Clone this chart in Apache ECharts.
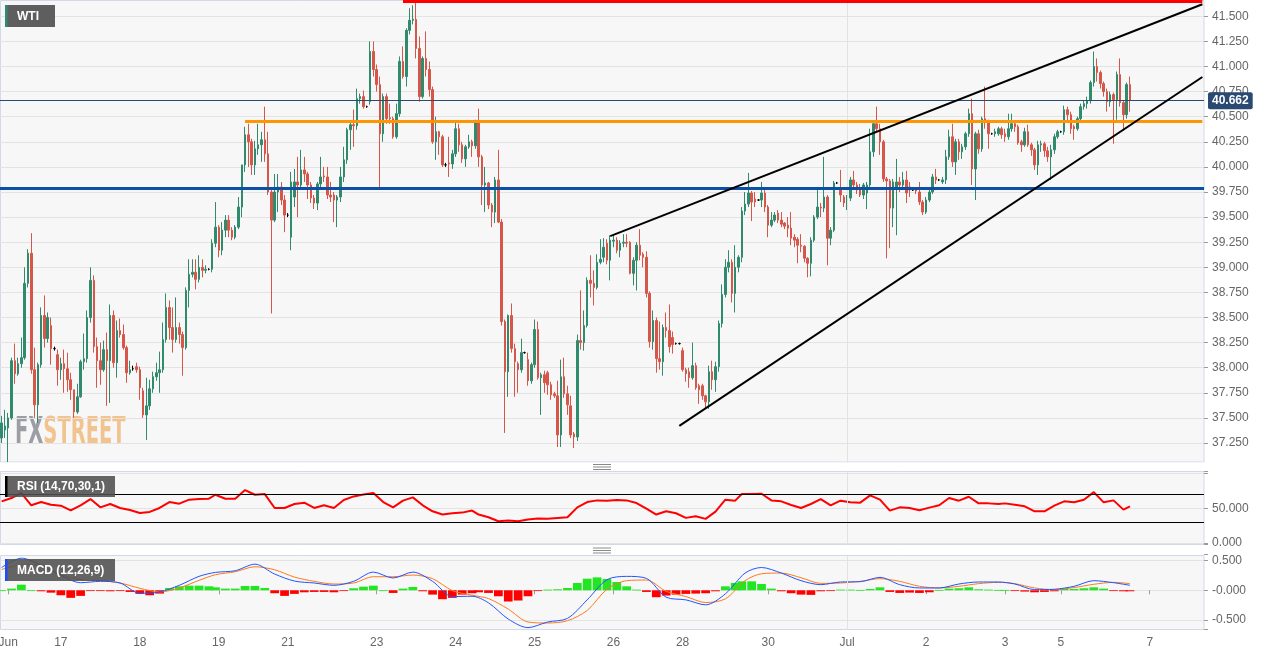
<!DOCTYPE html>
<html><head><meta charset="utf-8">
<script src="https://cdn.jsdelivr.net/npm/echarts@6/dist/echarts.min.js"></script>
<style>html,body{margin:0;padding:0;background:#fff}#c{width:1269px;height:655px}</style>
</head><body><div id="c"></div><script>
// hourly WTI candles [open, close, low, high], read left to right
const seg1 = [
[37.30,37.45,37.25,37.52],[37.38,37.42,37.30,37.58],[37.40,37.50,37.06,37.55],[37.50,38.07,37.48,38.10],
[38.07,37.94,37.84,38.24],[37.94,38.04,37.92,38.10],[38.04,38.10,38.00,38.30],[38.10,38.84,38.08,39.00],
[38.84,39.14,38.80,39.18],[39.14,37.98,37.94,39.34],[37.98,37.63,37.50,38.20],[37.63,38.03,37.45,38.05],
[38.03,38.52,38.00,38.60],[38.52,38.29,38.20,38.72],[38.29,38.50,38.25,38.55],[38.42,38.19,38.03,38.50],
[38.19,38.19,38.17,38.21],[38.13,37.98,37.82,38.18],[37.98,38.04,37.88,38.10],[38.04,37.99,37.75,38.18],
[37.99,37.88,37.76,38.15],[37.88,37.78,37.68,37.95],[37.78,37.56,37.50,37.78],[37.56,37.71,37.54,37.84],
[37.71,38.06,37.70,38.08],[38.06,38.09,37.98,38.34],[38.09,38.50,38.05,38.57],[38.50,38.87,38.45,39.00],
[38.87,38.21,38.15,38.92],[38.21,38.07,37.80,38.30],[38.07,37.98,37.83,38.25],[37.98,38.18,37.96,38.27],
[38.18,38.07,37.62,38.35],[38.07,38.52,37.65,38.63],[38.52,38.05,38.00,38.57],[38.05,38.37,37.90,38.47],
[38.37,38.33,38.30,38.49],[38.33,38.20,38.18,38.43],[38.20,37.95,37.85,38.22],[37.95,37.98,37.93,38.07],
[37.99,37.99,37.97,38.02],[38.01,37.98,37.95,38.05],[37.98,37.80,37.68,38.01],[37.77,37.53,37.50,37.80],
[37.53,37.62,37.28,37.90],[37.62,37.79,37.58,37.88],[37.79,37.91,37.75,37.96],[37.91,37.95,37.87,38.05],
[37.95,37.98,37.75,38.16],[37.98,38.28,37.95,38.45],[38.28,38.60,38.25,38.74],[38.60,38.40,38.28,38.67],
[38.40,38.28,38.15,38.60],[38.28,38.40,38.25,38.70],[38.40,38.33,38.24,38.45],[38.33,38.20,37.92,38.36],
[38.20,38.77,38.18,38.80],[38.77,38.93,38.60,39.08],[38.93,38.95,38.90,39.08],[38.95,38.88,38.78,39.08],
[38.88,39.00,38.85,39.12]
];
const seg2 = [
[39.00,38.97,38.90,39.08],[38.97,38.98,38.94,39.02],[38.98,38.98,38.97,38.99],[38.98,39.24,38.95,39.28],
[39.24,39.40,39.20,39.65],[39.40,39.17,39.10,39.42],[39.17,39.37,39.12,39.45],[39.37,39.47,39.30,39.52],
[39.47,39.37,39.30,39.52],[39.37,39.30,39.27,39.40],[39.30,39.40,39.28,39.42],[39.40,39.60,39.38,39.70],
[39.60,40.02,39.50,40.02],[40.02,40.32,39.95,40.40],[40.32,40.25,40.00,40.43],[40.25,40.02,39.92,40.28],
[40.02,40.18,39.92,40.26],[40.18,40.22,40.12,40.43],[40.22,40.27,40.05,40.35],[40.27,40.13,40.05,40.60],
[40.13,39.75,39.72,40.35],[39.75,39.47,38.54,39.77],[39.47,39.75,39.45,39.93],[39.75,39.80,39.55,39.93],
[39.80,39.67,39.62,39.85],[39.67,39.52,39.35,39.72],[39.52,39.52,39.50,39.54],[39.30,39.85,39.17,39.95],
[39.70,39.85,39.60,39.98],[39.85,39.82,39.50,40.10],[39.82,39.97,39.80,40.17],[39.97,39.93,39.85,40.10],
[39.93,39.82,39.68,39.95],[39.82,39.69,39.64,39.85],[39.69,39.64,39.58,39.72],[39.64,39.83,39.57,39.85],
[39.83,39.90,39.78,40.10],[39.91,39.90,39.85,40.00],[39.90,39.72,39.68,40.00],[39.72,39.70,39.65,39.85],
[39.72,39.67,39.45,39.75],[39.67,39.70,39.40,39.72],[39.70,39.90,39.65,40.00],[39.90,40.07,39.85,40.20],
[40.07,40.37,40.03,40.39],[40.37,40.42,40.17,40.45],[40.42,40.41,40.20,40.57],[40.41,40.68,40.37,40.78],
[40.68,40.70,40.63,40.73],[40.70,40.60,40.58,40.76],[40.60,40.60,40.59,40.61],[40.65,41.15,40.62,41.25],
[41.15,40.97,40.90,41.25],[40.97,40.82,40.75,41.02],[40.82,40.33,39.79,40.90],[40.33,40.70,40.25,40.73],
[40.70,40.48,40.43,40.73],[40.49,40.48,40.43,40.63],[40.48,40.30,40.28,40.50],[40.30,40.53,40.28,40.63],
[40.53,41.05,40.50,41.10]
];
const seg3 = [
[41.05,40.90,40.88,41.20],[40.90,41.36,40.80,41.38],[41.36,41.46,41.32,41.58],[41.46,41.47,41.42,41.61],
[41.47,41.18,41.08,41.64],[41.18,40.70,40.65,41.30],[40.70,41.08,40.68,41.10],[41.08,40.97,40.90,41.35],
[40.97,40.77,40.70,41.05],[40.77,40.25,40.23,40.80],[40.25,40.35,40.07,40.50],[40.35,40.30,40.12,40.36],
[40.30,40.02,40.00,40.32],[40.02,40.02,40.00,40.04],[40.04,40.03,39.90,40.30],[40.03,40.13,39.98,40.17],
[40.13,40.38,40.10,40.44],[40.38,40.22,40.15,40.43],[40.22,40.08,40.04,40.25],[40.08,40.20,40.00,40.22],
[40.20,40.25,40.18,40.32],[40.25,40.21,40.10,40.27],[40.21,40.45,40.18,40.47],[40.45,40.10,40.00,40.58],
[40.10,39.82,39.62,40.12],[39.82,39.84,39.55,40.00],[39.84,39.62,39.58,39.85],[39.62,39.55,39.40,39.64],
[39.55,39.87,39.44,39.90],[39.87,39.45,39.44,40.17],[39.45,38.46,38.42,39.48],[38.46,37.96,37.35,38.48],
[37.96,38.52,37.71,38.53],[38.52,38.19,38.15,38.64],[38.19,38.06,37.71,38.24],[38.04,37.98,37.75,38.06],
[37.98,38.15,37.95,38.29],[38.15,38.15,38.14,38.16],[38.08,37.87,37.82,38.15],[37.87,38.03,37.84,38.05],
[38.03,38.38,38.00,38.48],[38.38,37.90,37.88,38.46],[37.90,37.93,37.53,37.95],[37.93,37.85,37.75,37.97],
[37.95,37.83,37.73,37.97],[37.83,37.73,37.68,37.86],[37.74,37.72,37.70,37.76],[37.72,37.33,37.21,37.87],
[37.33,37.91,37.21,38.08],[37.91,37.74,37.70,38.10],[37.74,37.63,37.53,37.82],[37.62,37.33,37.30,37.72],
[37.34,37.31,37.20,37.36],[37.31,38.27,37.27,38.33],[38.27,38.25,38.18,38.77],[38.25,38.42,38.17,38.57],
[38.42,38.87,38.40,38.90],[38.87,38.84,38.70,39.12],[38.84,38.80,38.62,38.97],[38.80,39.05,38.78,39.13],
[39.05,39.08,39.03,39.28]
];
const seg4 = [
[39.10,39.20,39.05,39.29],[39.24,39.07,39.03,39.28],[39.07,39.27,38.87,39.32],[39.26,39.27,39.20,39.32],
[39.27,39.17,39.14,39.30],[39.17,39.24,39.10,39.27],[39.24,39.25,39.20,39.33],[39.25,39.24,39.20,39.33],
[39.25,38.94,38.93,39.26],[38.94,39.07,38.82,39.10],[39.07,39.22,38.77,39.25],[39.22,39.12,39.07,39.38],
[39.13,39.10,39.00,39.15],[39.10,38.74,38.70,39.16],[38.74,38.26,38.20,38.76],[38.26,38.47,38.18,38.57],
[38.47,38.09,37.95,38.50],[38.09,38.06,37.98,38.46],[38.06,38.40,37.92,38.43],[38.40,38.37,38.30,38.55],
[38.37,38.21,38.15,38.63],[38.30,38.23,38.14,38.36],[38.24,38.24,38.23,38.25],[38.24,38.24,38.23,38.25],
[38.17,37.98,37.96,38.20],[37.98,37.94,37.86,38.00],[37.96,37.90,37.80,38.00],[37.90,38.02,37.88,38.25],
[38.02,37.80,37.78,38.05],[37.82,37.78,37.64,37.84],[37.82,37.72,37.68,37.84],[37.72,37.66,37.60,37.73],
[37.66,37.96,37.59,38.02],[37.96,37.88,37.78,38.07],[37.88,38.01,37.76,38.06],[38.01,38.44,37.96,38.47],
[38.44,38.73,38.40,38.83],[38.73,39.00,38.70,39.08],[39.00,39.05,38.95,39.17],[39.05,38.74,38.65,39.08],
[38.74,39.00,38.55,39.22],[39.00,39.10,38.95,39.12],[39.10,39.56,39.05,39.60],[39.56,39.63,39.52,39.75],
[39.63,39.74,39.60,39.94],[39.74,39.65,39.46,39.76],[39.68,39.65,39.60,39.75],[39.67,39.67,39.66,39.68],
[39.67,39.74,39.60,39.85],[39.74,39.60,39.55,39.80],[39.60,39.42,39.30,39.62],[39.42,39.47,39.40,39.55],
[39.47,39.52,39.45,39.55],[39.54,39.47,39.44,39.57],[39.47,39.43,39.40,39.55],[39.44,39.41,39.38,39.45],
[39.42,39.39,39.30,39.50],[39.39,39.29,39.22,39.55],[39.30,39.27,39.20,39.33],[39.28,39.22,39.04,39.30]
];
const seg5 = [
[39.22,39.21,39.15,39.33],[39.21,39.09,39.05,39.22],[39.09,39.04,38.90,39.10],[39.04,39.27,38.91,39.30],
[39.27,39.50,39.25,39.52],[39.50,39.60,39.48,39.80],[39.60,39.59,39.50,39.64],[39.59,39.70,39.55,40.10],
[39.70,39.29,39.02,39.72],[39.29,39.37,39.22,39.40],[39.37,39.84,39.35,39.86],[39.84,39.84,39.83,39.85],
[39.78,39.72,39.65,39.97],[39.70,39.64,39.60,39.72],[39.64,39.69,39.57,39.72],[39.69,39.87,39.66,39.90],
[39.87,39.82,39.78,39.96],[39.82,39.77,39.73,39.85],[39.77,39.72,39.70,39.83],[39.72,39.82,39.68,39.84],
[39.74,39.82,39.58,39.85],[39.82,40.15,39.80,40.38],[40.15,40.43,40.10,40.45],[40.43,40.38,40.35,40.60],
[40.38,40.25,40.12,40.43],[40.25,39.88,39.85,40.27],[39.88,39.86,39.09,39.90],[39.86,39.59,39.19,39.88],
[39.59,39.85,39.40,39.88],[39.80,39.85,39.32,40.08],[39.85,39.82,39.75,39.90],[39.82,39.87,39.78,39.95],
[39.87,39.74,39.64,39.96],[39.80,39.77,39.70,39.85],[39.77,39.77,39.76,39.78],[39.78,39.76,39.73,39.80],
[39.75,39.65,39.62,39.85],[39.65,39.55,39.52,39.67],[39.55,39.67,39.53,39.70],[39.67,39.75,39.65,39.78],
[39.75,39.90,39.73,39.93],[39.90,39.87,39.83,39.98],[39.87,39.87,39.86,39.88],[39.85,39.87,39.83,39.90],
[39.87,40.10,39.83,40.17],[40.10,40.30,40.07,40.37],[40.30,40.05,40.00,40.43],[40.05,40.25,39.92,40.28],
[40.25,40.15,40.07,40.28],[40.15,40.20,40.08,40.23],[40.20,40.33,40.17,40.35],[40.33,40.53,40.30,40.58],
[40.53,39.98,39.82,40.68],[39.98,40.33,39.67,40.35],[40.33,40.18,40.13,40.37],[40.18,40.48,40.15,40.50],
[40.48,40.45,40.38,40.80],[40.45,40.33,40.18,40.47],[40.33,40.33,40.32,40.34],[40.33,40.35,40.30,40.38],
[40.33,40.38,40.31,40.40]
];
const seg6 = [
[40.38,40.32,40.28,40.40],[40.33,40.30,40.25,40.38],[40.30,40.38,40.27,40.53],[40.38,40.43,40.35,40.53],
[40.43,40.40,40.35,40.45],[40.40,40.24,40.22,40.42],[40.25,40.22,40.15,40.27],[40.22,40.35,40.20,40.39],
[40.35,40.22,40.20,40.42],[40.22,40.17,40.11,40.24],[40.17,40.02,39.97,40.19],[40.02,40.22,39.92,40.26],
[40.22,40.23,40.15,40.26],[40.23,40.16,40.10,40.25],[40.16,40.10,40.05,40.20],[40.10,40.17,39.87,40.22],
[40.17,40.30,40.13,40.33],[40.30,40.35,40.28,40.37],[40.35,40.35,40.34,40.36],[40.35,40.57,40.32,40.61],
[40.57,40.52,40.45,40.60],[40.52,40.38,40.33,40.55],[40.40,40.38,40.27,40.42],[40.38,40.48,40.36,40.50],
[40.48,40.60,40.45,40.63],[40.60,40.63,40.57,40.66],[40.63,40.66,40.58,40.70],[40.66,40.84,40.63,40.86],
[40.84,41.00,40.80,41.15],[41.00,40.94,40.85,41.08],[40.94,40.83,40.78,40.96],[40.83,40.75,40.70,40.85],
[40.75,40.65,40.55,40.78],[40.65,40.72,40.60,40.75],[40.72,40.67,40.23,40.74],[40.67,40.92,40.47,40.95],
[40.92,40.64,40.60,41.08],[40.64,40.52,40.36,40.66],[40.52,40.82,40.48,40.84],[40.82,40.662,40.55,40.90]
];
const candles = seg1.concat(seg2, seg3, seg4, seg5, seg6);

// x-axis ticks (hour index) and their labels
const tickIndex = [2, 18, 42, 66, 87, 114, 138, 162, 186, 207, 233, 257, 281, 305, 322, 349];
const tickLabel = ['Jun','17','18','19','21','23','24','25','26','28','30','Jul','2','3','5','7'];

// levels and trend lines [hour index, price]
const levelRed = 41.648, redStart = 122;
const levelOrange = 40.454, orangeStart = 74;
const levelBlue = 39.787;
const lastPrice = 40.662;
const trendUpper = [[185, 39.31], [365, 41.62]];
const trendLower = [[206, 37.42], [365, 40.895]];

// RSI(14) readings, about every 3 hours
const rsi = [60,64.8,72,54.3,59,55.2,53.8,47,54.3,63.3,51.4,56.2,50.5,47.6,43.3,44.8,50.5,59,56.7,62.4,63.3,63.8,69.5,63.8,63.8,76.2,69.5,70.5,50.5,50.5,56.2,
58.1,50.5,54.3,50.5,61.9,67.1,70,72,59,51.4,61,65.7,54.3,45.7,41,42.9,43.8,46.7,41,37.1,31.4,32.4,31.4,33.8,35.2,34.8,36.2,37.1,51.4,59,61.4,
61,61.9,61.4,57.6,49.5,41,45.7,42.9,36.2,38.6,34.8,45.2,62.4,61,70.5,70.5,71,61.4,60,54.8,50.5,56.2,63.3,54.3,61,58.6,58.1,68.6,62.4,46.7,51.4,
50.5,47.1,51,54.3,64.8,61,66.7,57.1,57.1,56.2,57.1,55.2,52.9,45.7,45.7,53.8,60,58.6,62.4,73.3,58.6,61.4,48.1,52.9];
// MACD histogram readings, same spacing as RSI
const macdHist = [0,0.028,0.095,0,-0.017,-0.04,-0.084,-0.128,-0.095,-0.006,-0.011,-0.017,-0.011,-0.028,-0.061,-0.084,-0.056,0.039,0.067,0.078,0.078,0.067,0.05,0.028,0.028,0.073,0.073,0.039,-0.05,-0.095,-0.061,
-0.034,-0.028,-0.028,-0.034,-0.006,0.034,0.061,0.078,0,-0.045,0.028,0.056,-0.017,-0.073,-0.151,-0.128,-0.073,-0.05,-0.034,-0.045,-0.101,-0.19,-0.173,-0.101,-0.006,0.011,0.017,0.039,0.123,0.196,0.218,
0.19,0.14,0.067,0.011,-0.028,-0.117,-0.089,-0.073,-0.061,-0.056,-0.05,-0.017,0.067,0.123,0.151,0.151,0.106,0.028,-0.017,-0.05,-0.073,-0.078,-0.017,-0.006,0.011,0.011,0.006,0.022,0.05,-0.028,-0.045,
-0.039,-0.045,-0.034,0.006,0.028,0.034,0.05,0.017,0.011,0.006,0.006,-0.006,-0.022,-0.034,-0.028,-0.017,0.022,0.022,0.034,0.05,0.028,-0.006,-0.017,-0.017];
// MACD line and signal readings, about every 6 hours
const macdLine = [0.385,0.542,0.425,0.251,0.128,0.151,0.123,-0.05,-0.028,0.084,0.235,0.302,0.33,0.441,0.274,0.156,0.123,0.084,0.151,0.307,0.207,0.307,0.151,-0.106,-0.101,-0.212,-0.486,-0.631,-0.536,-0.475,-0.162,0.179,0.235,0.201,-0.117,-0.162,-0.246,-0.061,0.291,0.385,0.291,0.162,0.095,0.14,0.145,0.218,0.095,0.039,0.039,0.106,0.14,0.14,0.106,0.011,0.017,0.067,0.162,0.128,0.084];
const macdSignal = [0.352,0.425,0.43,0.268,0.179,0.162,0.123,0.034,-0.028,0.039,0.168,0.263,0.313,0.397,0.346,0.223,0.151,0.106,0.123,0.229,0.229,0.257,0.196,-0.006,-0.084,-0.14,-0.318,-0.536,-0.553,-0.514,-0.341,0.017,0.162,0.173,-0.017,-0.106,-0.207,-0.145,0.162,0.279,0.291,0.212,0.117,0.123,0.151,0.196,0.151,0.067,0.039,0.067,0.112,0.134,0.112,0.039,0.011,0.045,0.101,0.134,0.112];

const N = 366;              // hourly slots across the plot width
const lastIndex = candles.length - 1;
const rsiStep = 2.963, macdStep = 5.927;   // hours between readings
const xLabels = Array.from({length: N}, () => '');
tickIndex.forEach((i, j) => { xLabels[i] = tickLabel[j]; });
const atStep = (arr, step) => arr.map((v, k) => [k === arr.length - 1 ? lastIndex : Math.round(0.29 + k * step), v]);

const up = '#2f8a6e', down = '#d6574a';
const histUp = '#22e622', histDown = '#ff0000';
const font = '"Liberation Sans", Arial, sans-serif';
const axisLab = {color: '#666', fontSize: 12, fontFamily: font, margin: 8};
const tick = {show: true, length: 4, lineStyle: {color: '#9a9a9a'}};
const split = {show: true, lineStyle: {color: '#e3e3e3', width: 1}};
const gridBase = {left: 0, width: 1204, containLabel: false, outerBoundsMode: 'none'};

const chart = echarts.init(document.getElementById('c'), null, {renderer: 'canvas'});
chart.setOption({
  animation: false,
  backgroundColor: '#ffffff',
  grid: [
    Object.assign({}, gridBase, {top: -8.8, height: 476.9}),
    Object.assign({}, gridBase, {top: 471.3, height: 73.4}),
    Object.assign({}, gridBase, {top: 554.7, height: 75})
  ],
  xAxis: [
    {type: 'category', gridIndex: 0, data: xLabels, boundaryGap: true, show: false},
    {type: 'category', gridIndex: 1, data: xLabels, boundaryGap: true, show: false},
    {type: 'category', gridIndex: 2, data: xLabels, boundaryGap: true,
     axisLine: {show: false},
     axisTick: {show: true, length: 4, alignWithLabel: true, interval: (i, v) => v !== '', lineStyle: {color: '#9a9a9a'}},
     axisLabel: {interval: 0, color: '#666', fontSize: 12, fontFamily: font, margin: 7},
     splitLine: {show: false}}
  ],
  yAxis: [
    {type: 'value', gridIndex: 0, position: 'right', min: 37, max: 41.75, interval: 0.25,
     axisLine: {show: false}, axisTick: tick, splitLine: split,
     axisLabel: Object.assign({}, axisLab, {formatter: v => (v < 37.1 || v > 41.6) ? '' : v.toFixed(3)})},
    {type: 'value', gridIndex: 1, position: 'right', min: -2.43, max: 103.3, splitNumber: 2,
     axisLine: {show: false}, axisTick: tick,
     splitLine: {show: true, showMinLine: false, showMaxLine: false, lineStyle: {color: '#e3e3e3'}},
     axisLabel: Object.assign({}, axisLab, {formatter: v => Math.abs(v) < 1e-6 ? '0.000' : (Math.abs(v - 50) < 1e-6 ? '50.000' : '')})},
    {type: 'value', gridIndex: 2, position: 'right', min: -0.666, max: 0.601, splitNumber: 2,
     axisLine: {show: false}, axisTick: tick,
     splitLine: {show: true, showMinLine: false, showMaxLine: false, lineStyle: {color: '#e3e3e3'}},
     axisLabel: Object.assign({}, axisLab, {formatter: v => Math.abs(v) < 1e-6 ? '-0.000' : (Math.abs(Math.abs(v) - 0.5) < 1e-6 ? v.toFixed(3) : '')})}
  ],
  series: [
    {
      type: 'candlestick', xAxisIndex: 0, yAxisIndex: 0, data: candles, barWidth: 2,
      itemStyle: {color: up, color0: down, borderColor: up, borderColor0: down, borderColorDoji: '#000', borderWidth: 1},
      markLine: {
        silent: true, symbol: ['none', 'none'], animation: false,
        label: {show: false},
        data: [
          {xAxis: 'Jul', lineStyle: {color: '#e2e2e2', width: 1, type: 'solid'}},
          {yAxis: levelBlue, lineStyle: {color: '#0b4fa6', width: 3, type: 'solid'}},
          {yAxis: lastPrice, lineStyle: {color: '#2b4a72', width: 1, type: 'solid'},
           label: {show: true, position: 'end', formatter: '40.662', color: '#fff', backgroundColor: '#2b4a72',
                   fontWeight: 'bold', fontSize: 12, fontFamily: font, padding: [3, 4, 2, 4], borderRadius: 2, distance: 4}},
          [{coord: [orangeStart, levelOrange]}, {coord: [N - 1, levelOrange], lineStyle: {color: '#ff9500', width: 3, type: 'solid'}}],
          [{coord: [redStart, levelRed]}, {coord: [N - 1, levelRed], lineStyle: {color: '#ff0000', width: 3, type: 'solid'}}],
          [{coord: trendUpper[0]}, {coord: trendUpper[1], lineStyle: {color: '#000', width: 2, type: 'solid'}}],
          [{coord: trendLower[0]}, {coord: trendLower[1], lineStyle: {color: '#000', width: 2, type: 'solid'}}]
        ]
      }
    },
    {
      type: 'line', xAxisIndex: 1, yAxisIndex: 1, data: atStep(rsi, rsiStep), showSymbol: false,
      lineStyle: {color: '#ff0000', width: 2}, itemStyle: {color: '#ff0000'},
      markLine: {silent: true, symbol: ['none', 'none'], animation: false, label: {show: false},
        data: [
          {xAxis: 'Jul', lineStyle: {color: '#e2e2e2', width: 1, type: 'solid'}},
          {yAxis: 70, lineStyle: {color: '#000', width: 1, type: 'solid'}},
          {yAxis: 30, lineStyle: {color: '#000', width: 1, type: 'solid'}}
        ]}
    },
    {
      type: 'custom', xAxisIndex: 2, yAxisIndex: 2, data: atStep(macdHist, rsiStep),
      encode: {x: 0, y: 1},
      renderItem: (params, api) => {
        const i = api.value(0), v = api.value(1);
        const p0 = api.coord([i, 0]), p1 = api.coord([i, v]);
        const bw = api.size([1, 0])[0] * rsiStep;
        return {type: 'rect',
          shape: {x: p0[0] - bw / 2 + 0.5, y: Math.min(p0[1], p1[1]), width: bw - 1, height: Math.max(Math.abs(p1[1] - p0[1]), 0.8)},
          style: {fill: v >= 0 ? histUp : histDown}};
      }
    },
    {
      type: 'line', xAxisIndex: 2, yAxisIndex: 2, data: atStep(macdSignal, macdStep), showSymbol: false, smooth: 0.3,
      lineStyle: {color: '#ff7a1a', width: 1}, itemStyle: {color: '#ff7a1a'},
      markLine: {silent: true, symbol: ['none', 'none'], animation: false, label: {show: false},
        data: [{xAxis: 'Jul', lineStyle: {color: '#e2e2e2', width: 1, type: 'solid'}}]}
    },
    {
      type: 'line', xAxisIndex: 2, yAxisIndex: 2, data: atStep(macdLine, macdStep), showSymbol: false, smooth: 0.3,
      lineStyle: {color: '#2255ff', width: 1}, itemStyle: {color: '#2255ff'}
    }
  ],
  graphic: [
    {type: 'rect', z: -10, silent: true, shape: {x: 0.5, y: 0.5, width: 1203.5, height: 461.5}, style: {fill: '#f7f7f7', stroke: '#d3d8e6', lineWidth: 1}},
    {type: 'rect', z: -10, silent: true, shape: {x: 0.5, y: 471.5, width: 1203.5, height: 73}, style: {fill: '#f7f7f7', stroke: '#d3d8e6', lineWidth: 1}},
    {type: 'rect', z: -10, silent: true, shape: {x: 0.5, y: 555.5, width: 1203.5, height: 74}, style: {fill: '#f7f7f7', stroke: '#d3d8e6', lineWidth: 1}},
    {type: 'text', z: -5, silent: true, x: 15, y: 414, scaleX: 0.57,
     style: {text: '{a|FX}{b|STREET}', rich: {
       a: {fill: '#9d9da6', fontSize: 38, fontWeight: 'bold', fontFamily: '"DejaVu Sans Condensed", "DejaVu Sans", sans-serif'},
       b: {fill: '#f3c38f', fontSize: 38, fontWeight: 'bold', fontFamily: '"DejaVu Sans Condensed", "DejaVu Sans", sans-serif'}}}},
    {type: 'rect', z: 50, silent: true, shape: {x: 0, y: 462.6, width: 1269, height: 8.2}, style: {fill: '#ffffff'}},
    {type: 'rect', z: 51, silent: true, shape: {x: 593, y: 464, width: 18, height: 1}, style: {fill: '#8a8a8a'}},
    {type: 'rect', z: 51, silent: true, shape: {x: 593, y: 466.5, width: 18, height: 1}, style: {fill: '#8a8a8a'}},
    {type: 'rect', z: 51, silent: true, shape: {x: 593, y: 469, width: 18, height: 1}, style: {fill: '#8a8a8a'}},
    {type: 'rect', z: 51, silent: true, shape: {x: 593, y: 547.5, width: 18, height: 1}, style: {fill: '#8a8a8a'}},
    {type: 'rect', z: 51, silent: true, shape: {x: 593, y: 550, width: 18, height: 1}, style: {fill: '#8a8a8a'}},
    {type: 'rect', z: 51, silent: true, shape: {x: 593, y: 552.5, width: 18, height: 1}, style: {fill: '#8a8a8a'}},
    {type: 'rect', z: 60, silent: true, shape: {x: 5, y: 5, width: 50, height: 22}, style: {fill: '#5e5e5e'}},
    {type: 'rect', z: 61, silent: true, shape: {x: 5, y: 5, width: 2.5, height: 22}, style: {fill: '#2e8b73'}},
    {type: 'text', z: 62, silent: true, x: 17, y: 16.5, style: {text: 'WTI', fill: '#fff', fontSize: 12, fontWeight: 'bold', fontFamily: font, verticalAlign: 'middle'}},
    {type: 'rect', z: 60, silent: true, shape: {x: 5, y: 476, width: 110, height: 21}, style: {fill: 'rgba(80,80,80,0.88)'}},
    {type: 'rect', z: 61, silent: true, shape: {x: 5, y: 476, width: 2.5, height: 21}, style: {fill: '#000'}},
    {type: 'text', z: 62, silent: true, x: 17, y: 487, style: {text: 'RSI (14,70,30,1)', fill: '#fff', fontSize: 12, fontWeight: 'bold', fontFamily: font, verticalAlign: 'middle'}},
    {type: 'rect', z: 60, silent: true, shape: {x: 5, y: 559, width: 110, height: 22}, style: {fill: 'rgba(80,80,80,0.88)'}},
    {type: 'rect', z: 61, silent: true, shape: {x: 5, y: 559, width: 2.5, height: 22}, style: {fill: '#1b4dff'}},
    {type: 'text', z: 62, silent: true, x: 17, y: 570.5, style: {text: 'MACD (12,26,9)', fill: '#fff', fontSize: 12, fontWeight: 'bold', fontFamily: font, verticalAlign: 'middle'}}
  ]
});
</script></body></html>
